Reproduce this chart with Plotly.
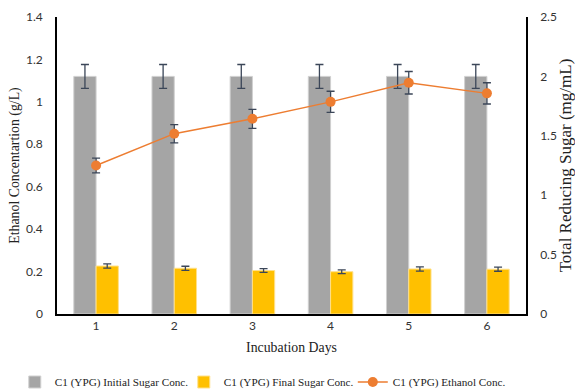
import plotly.graph_objects as go

days = [1, 2, 3, 4, 5, 6]
initial_sugar = [2.0, 2.0, 2.0, 2.0, 2.0, 2.0]
initial_sugar_err = [0.1, 0.1, 0.1, 0.1, 0.1, 0.1]
final_sugar = [0.404, 0.385, 0.366, 0.356, 0.379, 0.377]
final_sugar_err = [0.018, 0.017, 0.016, 0.016, 0.018, 0.017]
ethanol = [0.70, 0.85, 0.92, 1.00, 1.09, 1.04]
ethanol_err = [0.035, 0.043, 0.045, 0.05, 0.053, 0.05]

err_color = "#3B4658"
tick_font = dict(family="Lato, Liberation Sans, sans-serif", size=12, color="#333333")
serif = "Liberation Serif, Times New Roman, serif"

fig = go.Figure()
fig.add_trace(go.Bar(
    x=days, y=initial_sugar, name="C1 (YPG) Initial Sugar Conc.",
    marker=dict(color="#A5A5A5", line=dict(color="#D0D0D0", width=1)),
    error_y=dict(type="data", array=initial_sugar_err, color=err_color, thickness=1.3, width=4),
    yaxis="y",
))
fig.add_trace(go.Bar(
    x=days, y=final_sugar, name="C1 (YPG) Final Sugar Conc.",
    marker=dict(color="#FFC000", line=dict(color="#FFE08A", width=1)),
    error_y=dict(type="data", array=final_sugar_err, color=err_color, thickness=1.3, width=4),
    yaxis="y",
))
fig.add_trace(go.Scatter(
    x=days, y=ethanol, name="C1 (YPG) Ethanol Conc.", mode="lines+markers",
    line=dict(color="#ED7D31", width=1.5),
    marker=dict(color="#ED7D31", size=10),
    error_y=dict(type="data", array=ethanol_err, color=err_color, thickness=1.3, width=4),
    yaxis="y2",
))

fig.update_layout(
    width=575, height=390,
    margin=dict(l=57, r=49, t=17, b=76, autoexpand=False),
    paper_bgcolor="white", plot_bgcolor="white",
    barmode="group", bargap=0.43, bargroupgap=0,
    showlegend=True,
    legend=dict(orientation="h", x=-0.09, xanchor="left", y=-0.229, yanchor="middle",
                font=dict(family=serif, size=11.2, color="#222222"),
                itemwidth=30, entrywidth=124, entrywidthmode="pixels",
                tracegroupgap=0, traceorder="normal",
                bgcolor="rgba(0,0,0,0)", borderwidth=0),
    xaxis=dict(
        range=[0.5, 6.5], tickmode="array", tickvals=days, ticktext=[str(d) for d in days],
        showline=True, linecolor="black", linewidth=1.5, showgrid=False, zeroline=False,
        ticks="", tickfont=tick_font, automargin=False,
        title=dict(text="Incubation Days", font=dict(family=serif, size=13.8, color="#222222"), standoff=10),
    ),
    yaxis=dict(
        side="right", range=[0, 2.5], tickvals=[0, 0.5, 1, 1.5, 2, 2.5],
        showline=True, linecolor="black", linewidth=1.5, showgrid=False, zeroline=False,
        ticks="", tickfont=tick_font, ticklabelstandoff=10, automargin=False,
        title=dict(text="Total Reducing Sugar (mg/mL)", font=dict(family=serif, size=17, color="#222222"), standoff=3),
    ),
    yaxis2=dict(
        side="left", overlaying="y", range=[0, 1.4], tickvals=[0, 0.2, 0.4, 0.6, 0.8, 1, 1.2, 1.4],
        showline=True, linecolor="black", linewidth=1.5, showgrid=False, zeroline=False,
        ticks="", tickfont=tick_font, ticklabelstandoff=10, automargin=False,
        title=dict(text="Ethanol Concentartion (g/L)", font=dict(family=serif, size=13.8, color="#222222"), standoff=3),
    ),
)

fig.write_html("out.html")
